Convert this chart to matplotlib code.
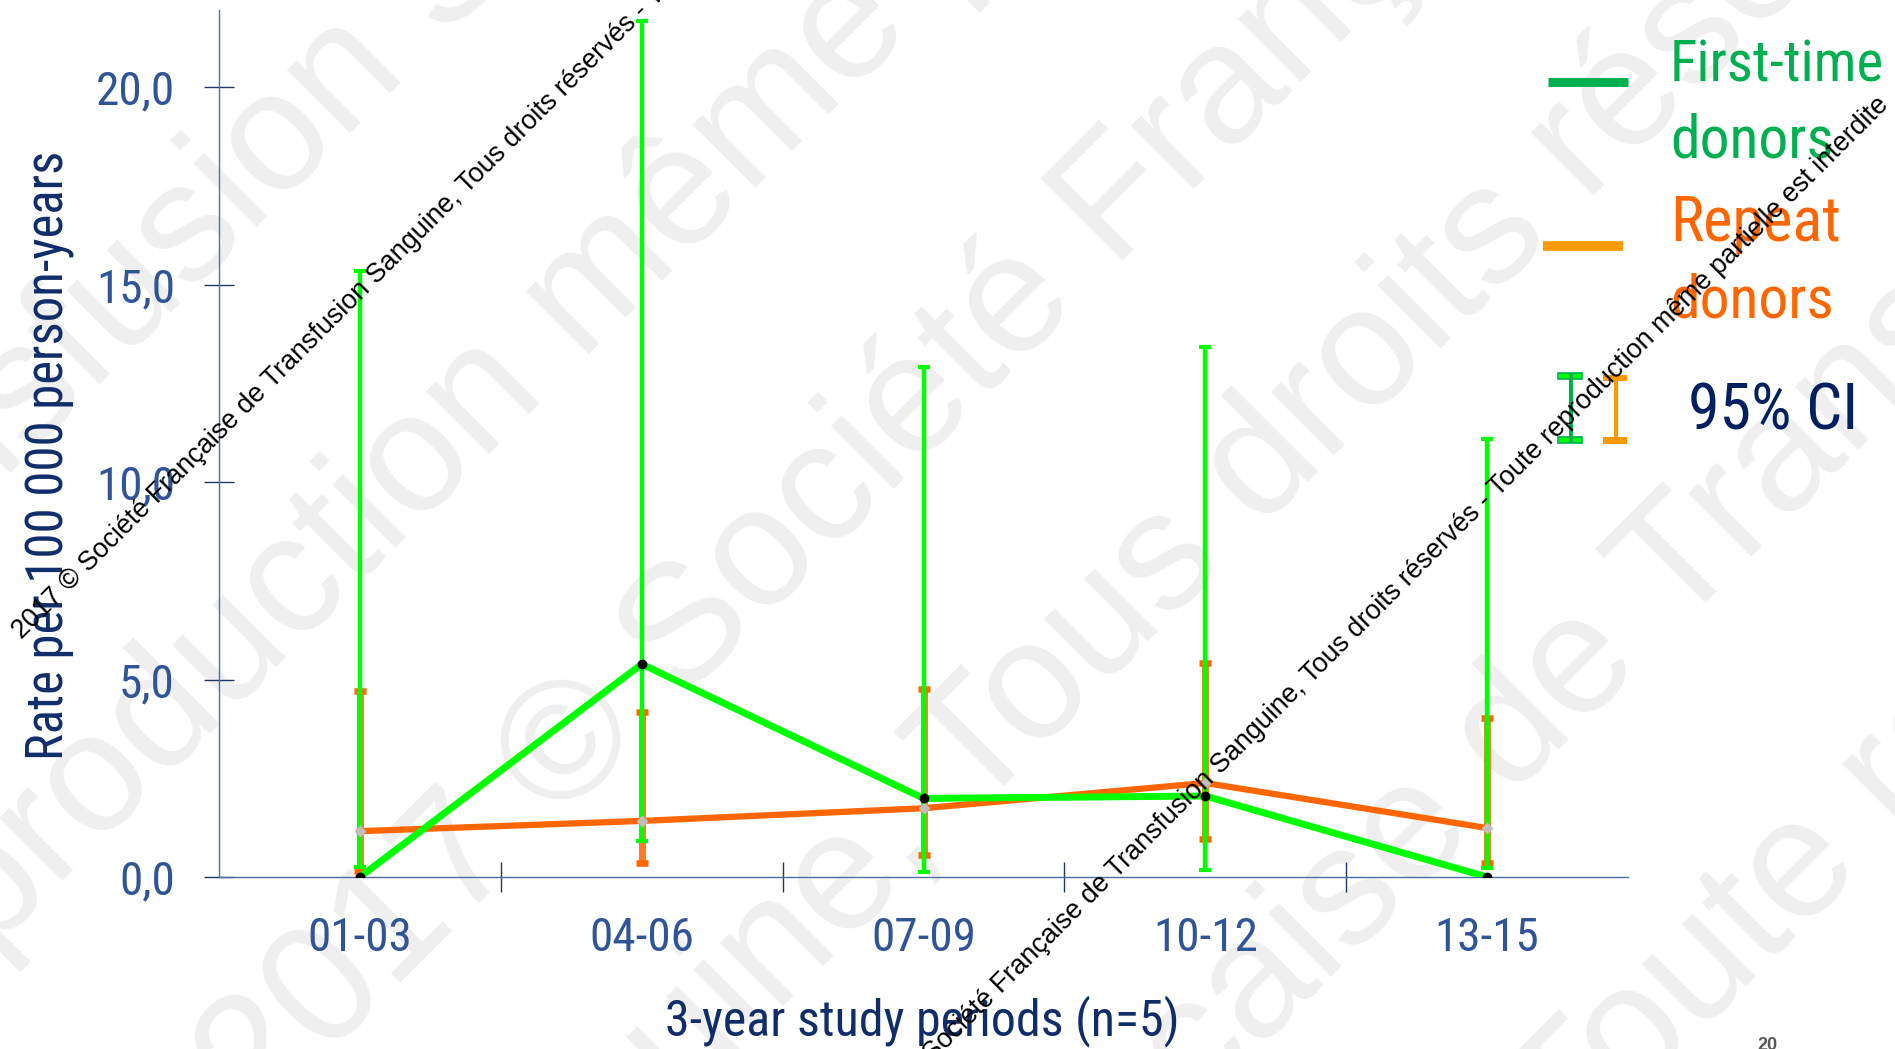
import matplotlib
matplotlib.use('Agg')
import matplotlib.pyplot as plt
from matplotlib import font_manager
from matplotlib.patches import Rectangle

# values (rate per 100 000 person-years, 95% CI)
periods = ['01-03', '04-06', '07-09', '10-12', '13-15']
first_rate = [0.0, 5.39, 1.99, 2.05, 0.0]
first_low = [0.25, 0.92, 0.12, 0.18, 0.23]
first_high = [15.35, 21.67, 12.9, 13.43, 11.1]
repeat_rate = [1.16, 1.42, 1.74, 2.38, 1.24]
repeat_low = [0.15, 0.35, 0.55, 0.96, 0.35]
repeat_high = [4.71, 4.18, 4.77, 5.42, 4.03]
y_ticks = [0, 5, 10, 15, 20]
y_tick_labels = ['0,0', '5,0', '10,0', '15,0', '20,0']
y_max = 21.95

W, H = 1895, 1049

installed = {f.name for f in font_manager.fontManager.ttflist}
narrow = next((f for f in ['Liberation Sans Narrow', 'Roboto Condensed', 'Open Sans Condensed']
               if f in installed), 'Liberation Sans')
plain = 'Liberation Sans'

notice = ('2017 © Société Française de Transfusion Sanguine, Tous droits réservés - '
          'Toute reproduction même partielle est interdite')

fig = plt.figure(figsize=(W / 100, H / 100), dpi=100)
fig.patch.set_facecolor('white')

# big light grey watermark behind everything
bg = fig.add_axes([0, 0, 1, 1], zorder=-1)
bg.set_xlim(0, W)
bg.set_ylim(H, 0)
bg.axis('off')
big_marks = [
    ('Transfusion Sanguine, Tous', -213, 696),
    ('production même partielle', -12, 955),
    ('2017 © Société Française de', 259, 1125),
    ('Sanguine, Tous droits réservés', 402, 1387),
    ('Française de Transfusion', 951, 1358),
    ('Toute reproduction', 1571, 1161),
]
for txt, px, py in big_marks:
    bg.text(px, py, txt, rotation=45, rotation_mode='anchor', ha='left', va='baseline',
            fontsize=122, color='#EFEFEF', family=plain)

# main chart
ax = fig.add_axes([219 / W, 1 - 877 / H, 1409 / W, 867 / H])
ax.patch.set_alpha(0)
xs = list(range(len(periods)))

ax.vlines(xs, repeat_low, repeat_high, color='#FF7A22', lw=5, zorder=2)
ax.plot(xs, repeat_low, ls='none', marker='_', ms=8, mew=4.7, color='#FF6600', zorder=2)
ax.plot(xs, repeat_high, ls='none', marker='_', ms=8, mew=4.7, color='#FF6600', zorder=2)

ax.vlines(xs, first_low, first_high, color='#00FF00', lw=3.2, zorder=3)
ax.plot(xs, first_low, ls='none', marker='_', ms=8.6, mew=3, color='#00FF00', zorder=3)
ax.plot(xs, first_high, ls='none', marker='_', ms=8.6, mew=3, color='#00FF00', zorder=3)

ax.plot(xs, repeat_rate, color='#FF6600', lw=4.5, marker='D', ms=5,
        mfc='#BFBFBF', mec='#BFBFBF', zorder=4)
ax.plot(xs, first_rate, color='#00FF00', lw=5, marker='o', ms=6,
        mfc='black', mec='black', zorder=5)

ax.set_xlim(-0.5, len(periods) - 0.5)
ax.set_ylim(0, y_max)
ax.set_yticks(y_ticks)
ax.set_yticklabels(y_tick_labels)
ax.set_xticks(xs)
ax.set_xticklabels(periods)
ax.set_xticks([i + 0.5 for i in xs[:-1]], minor=True)

tick_col = '#1F3864'
lab_col = '#2F5597'
ax.tick_params(axis='x', which='major', length=0, pad=28, labelsize=34, labelcolor=lab_col)
ax.tick_params(axis='x', which='minor', direction='inout', length=21.6, width=1, color=tick_col)
ax.tick_params(axis='y', which='major', direction='inout', length=21.6, width=1, color=tick_col,
               pad=21, labelsize=34, labelcolor=lab_col)
for lab in ax.get_xticklabels() + ax.get_yticklabels():
    lab.set_family(narrow)

ax.spines[['top', 'right']].set_visible(False)
for s in ['left', 'bottom']:
    ax.spines[s].set_color('#4F6FA8')
    ax.spines[s].set_linewidth(1)

# overlay for labels, legend and notice
ov = fig.add_axes([0, 0, 1, 1], zorder=5)
ov.set_xlim(0, W)
ov.set_ylim(H, 0)
ov.axis('off')

navy = '#0F2D69'
ov.text(50, 455, 'Rate per 100 000 person-years', rotation=90, ha='center', va='center',
        fontsize=36.5, color=navy, family=narrow)
ov.text(922, 1021, '3-year study periods (n=5)', ha='center', va='center',
        fontsize=36, color=navy, family=narrow)

# legend
ov.plot([1548, 1628], [82, 82], color='#00B050', lw=6.5, solid_capstyle='butt')
ov.plot([1543, 1623], [246, 246], color='#FF9900', lw=7, solid_capstyle='butt')
ov.text(1670, 81, 'First-time', fontsize=41, color='#00B050', family=narrow, va='baseline')
ov.text(1670, 157, 'donors', fontsize=43, color='#00B050', family=narrow, va='baseline')
ov.text(1670, 241, 'Repeat', fontsize=45, color='#FF6600', family=narrow, va='baseline')
ov.text(1670, 317, 'donors', fontsize=43, color='#FF6600', family=narrow, va='baseline')
ov.text(1688, 430, '95% CI', fontsize=46, color='#002060', family=narrow, va='baseline')

ov.plot([1571, 1571], [376, 440], color='#00B050', lw=3)
ov.add_patch(Rectangle((1558, 373), 24, 6, facecolor='#00FF00', edgecolor='#00B050', lw=1.2))
ov.add_patch(Rectangle((1558, 437), 24, 6, facecolor='#00FF00', edgecolor='#00B050', lw=1.2))
ov.plot([1616, 1616], [378, 441], color='#FF9900', lw=3)
ov.add_patch(Rectangle((1603, 375), 24, 6, facecolor='#FF9900', edgecolor='#FF9900', lw=0))
ov.add_patch(Rectangle((1603, 437), 24, 7, facecolor='#FF9900', edgecolor='#FF9900', lw=0))

# black copyright notice lines
for px, py in [(22, 640), (866, 1130)]:
    ov.text(px, py, notice, rotation=45, rotation_mode='anchor', ha='left', va='baseline',
            fontsize=19.4, color='black', family=plain, zorder=10)

# page number
ov.text(1767, 1037, '20', ha='center', va='top', fontsize=13, fontweight='bold',
        color='#595959', family=plain)

fig.savefig('out.png', dpi=100)
